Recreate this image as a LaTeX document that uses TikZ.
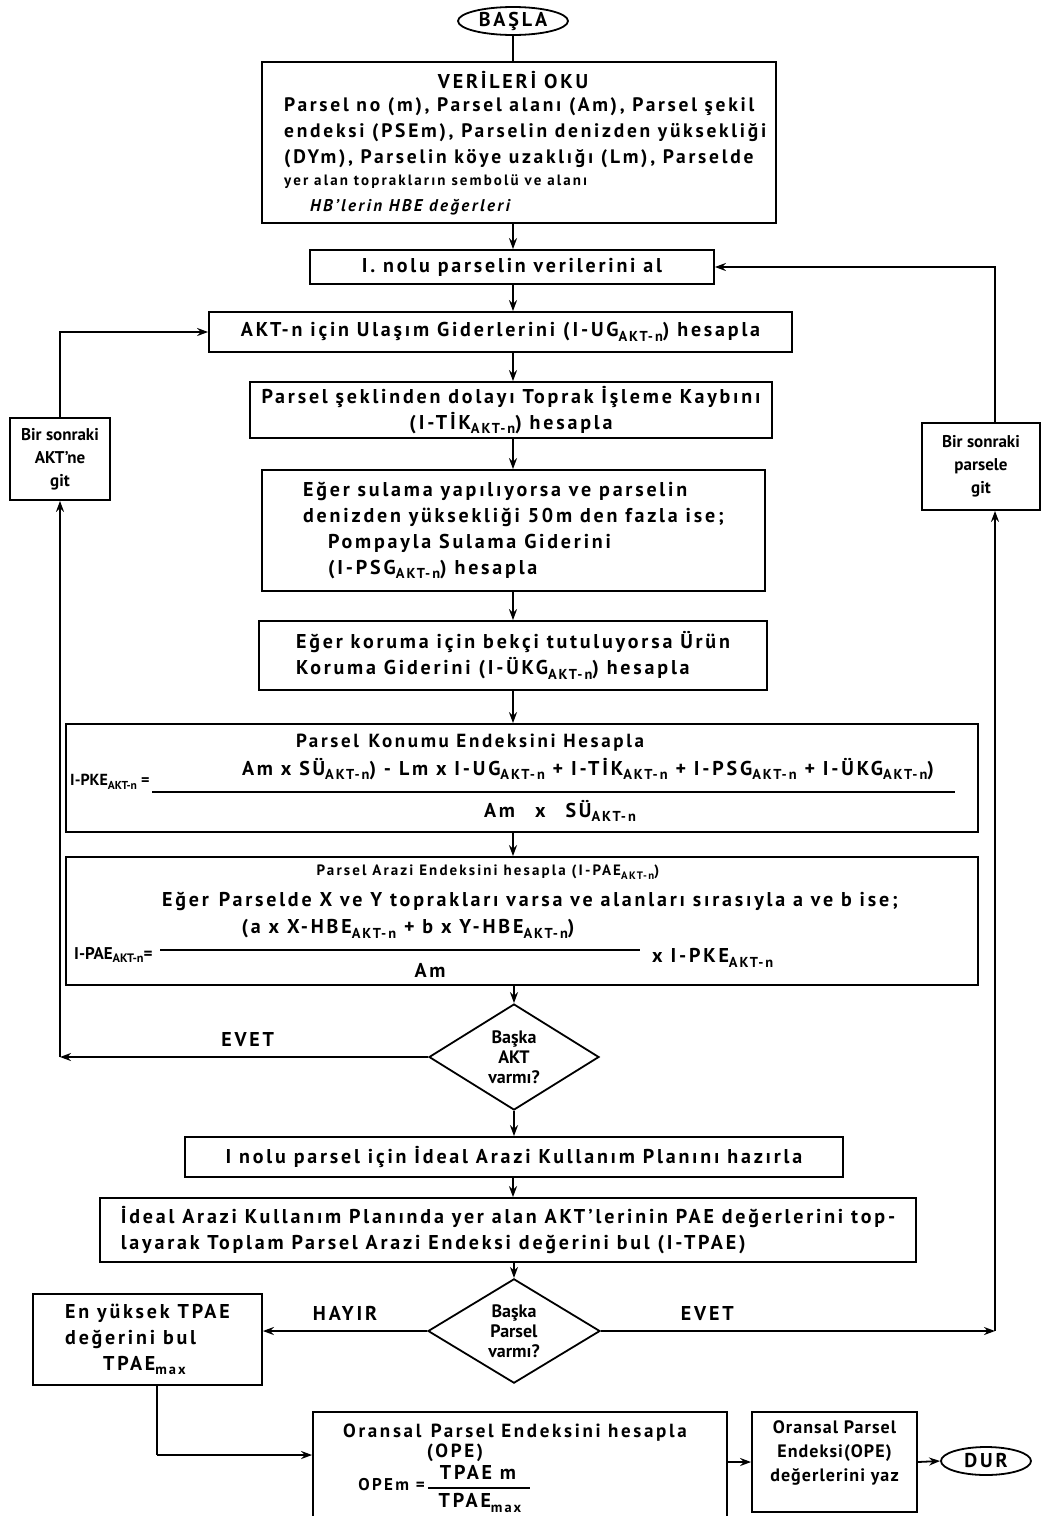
\documentclass[tikz,border=0pt]{standalone}
\usepackage{fontspec}
\usepackage{graphicx}
\setmainfont{PT Sans}[LetterSpace=14]
\usetikzlibrary{shapes.geometric,arrows.meta}
\newcommand\sbs[1]{\raisebox{-0.45ex}{\scalebox{0.72}{#1}}}
\newcommand\nols{\addfontfeature{LetterSpace=0}}
\begin{document}
\begin{tikzpicture}[x=1pt,y=-1pt,
  font=\bfseries\fontsize{20}{26}\selectfont,
  box/.style={draw, line width=1.8pt, inner sep=0pt, align=center},
  arr/.style={line width=1.8pt, -{Stealth[length=11pt,width=8pt]}},
  ln/.style={line width=1.8pt},
  lbl/.style={inner sep=0pt},
  dia/.style={draw, diamond, line width=1.8pt, inner sep=0pt, align=center, font=\bfseries\fontsize{18}{20}\selectfont\nols},
  term/.style={draw, ellipse, line width=1.8pt, inner sep=0pt}]
\useasboundingbox[fill=white] (0,0) rectangle (1050,1516);
\coordinate (cx) at (513,0);

% start
\node[term, minimum width=110, minimum height=28] (basla) at (513,21) {BAŞLA};

% read data
\node[box, minimum width=514, minimum height=161] (oku) at (519,142.5) {};
\node[lbl, font=\bfseries\fontsize{20}{24}\selectfont] (okut) at (513,80) {VERİLERİ OKU};
\node[lbl, anchor=north west, align=left, font=\bfseries\fontsize{19.5}{26}\selectfont] (okub) at (284,97) {Parsel no (m), Parsel alanı (Am), Parsel şekil\\
endeksi (PSEm), Parselin denizden yüksekliği\\
(DYm), Parselin köye uzaklığı (Lm), Parselde\\[-4pt]
{\fontsize{15}{20}\selectfont yer alan toprakların sembolü ve alanı}};
\node[lbl, font=\bfseries\itshape\fontsize{17}{22}\selectfont] (okuc) at (410,207) {HB'lerin HBE değerleri};

\node[box, minimum width=404, minimum height=34] (al) at (512,267) {I. nolu parselin verilerini al};
\node[box, minimum width=583, minimum height=40] (ug) at (500.5,332) {AKT-n için Ulaşım Giderlerini (I-UG\sbs{AKT-n}) hesapla};
\node[box, minimum width=522, minimum height=56] (tik) at (511,410) {Parsel şeklinden dolayı Toprak İşleme Kaybını\\(I-TİK\sbs{AKT-n}) hesapla};
\node[box, minimum width=503, minimum height=121, align=left] (psg) at (513.5,530.5) {Eğer sulama yapılıyorsa ve parselin\\
denizden yüksekliği 50m den fazla ise;\\
\hspace*{25pt}Pompayla Sulama Giderini\\
\hspace*{25pt}(I-PSG\sbs{AKT-n}) hesapla};
\node[box, minimum width=508, minimum height=69, align=left] (ukg) at (513,655.5) {Eğer koruma için bekçi tutuluyorsa Ürün\\Koruma Giderini (I-ÜKG\sbs{AKT-n}) hesapla};

% PKE
\node[box, minimum width=912, minimum height=108] (pke) at (522,778) {};
\node[lbl, font=\bfseries\fontsize{19}{22}\selectfont] (pket) at (470,743) {Parsel\enspace Konumu Endeksini Hesapla};
\node[lbl, anchor=west, font=\bfseries\fontsize{16}{18}\selectfont\nols] (pkel) at (70,782) {I-PKE\sbs{AKT-n} =};
\node[lbl, font=\bfseries\fontsize{20}{22}\selectfont] (pken) at (588,769) {Am x SÜ\sbs{AKT-n}) - Lm x I-UG\sbs{AKT-n} + I-TİK\sbs{AKT-n} + I-PSG\sbs{AKT-n} + I-ÜKG\sbs{AKT-n})};
\draw[line width=1.5pt] (152,792) -- (955,792);
\node[lbl] (pked) at (560,811) {Am\quad x\quad SÜ\sbs{AKT-n}};

% PAE
\node[box, minimum width=912, minimum height=128] (pae) at (522,921) {};
\node[lbl, font=\bfseries\fontsize{15}{20}\selectfont] (paet) at (488,872) {Parsel Arazi Endeksini hesapla (I-PAE\sbs{AKT-n})};
\node[lbl] (paee) at (530,901) {Eğer\enspace Parselde X ve Y toprakları varsa ve alanları sırasıyla a ve b ise;};
\node[lbl] (paen) at (408,929) {(a x X-HBE\sbs{AKT-n} + b x Y-HBE\sbs{AKT-n})};
\draw[line width=1.5pt] (160,950) -- (640,950);
\node[lbl, anchor=west, font=\bfseries\fontsize{17}{20}\selectfont\nols] (pael) at (74,955) {I-PAE\sbs{AKT-n}=};
\node[lbl] (paed) at (430,970) {Am};
\node[lbl, anchor=west, font=\bfseries\fontsize{20}{22}\selectfont] (paer) at (652,958) {x I-PKE\sbs{AKT-n}};

% decision 1
\node[dia, minimum width=170, minimum height=106] (d1) at (514,1057) {Başka\\AKT\\varmı?};

\node[box, minimum width=658, minimum height=40] (plan) at (514,1157) {I nolu parsel için İdeal Arazi Kullanım Planını hazırla};
\node[box, minimum width=816, minimum height=64, align=left] (tpae) at (508,1230) {İdeal Arazi Kullanım Planında yer alan AKT'lerinin PAE değerlerini top-\\layarak Toplam Parsel Arazi Endeksi değerini bul (I-TPAE)};

% decision 2
\node[dia, minimum width=172, minimum height=98] (d2) at (514,1331) {Başka\\Parsel\\varmı?};

% side boxes
\node[box, minimum width=100, minimum height=82, font=\bfseries\fontsize{17}{23}\selectfont\nols] (aktgit) at (60,459) {Bir sonraki\\AKT'ne\\git};
\node[box, minimum width=118, minimum height=87, font=\bfseries\fontsize{17}{23}\selectfont\nols] (pargit) at (981,466.5) {Bir sonraki\\parsele\\git};

\node[box, minimum width=229, minimum height=91, align=left] (max) at (147.5,1339.5) {En yüksek TPAE\\değerini bul\\\hspace*{38pt}TPAE\sbs{max}};

% bottom
\node[box, minimum width=414, minimum height=110] (ope) at (520,1467) {};
\node[lbl, font=\bfseries\fontsize{19}{24}\selectfont] (opet) at (515,1433) {Oransal\enspace Parsel Endeksini hesapla};
\node[lbl, font=\bfseries\fontsize{19}{24}\selectfont] (opep) at (455,1453) {(OPE)};
\node[lbl, anchor=east, font=\bfseries\fontsize{17}{20}\selectfont] (opel) at (425,1485) {OPEm =};
\node[lbl] (open) at (478,1472) {TPAE m};
\draw[line width=1.5pt] (428,1488) -- (530,1488);
\node[lbl] (oped) at (480,1503) {TPAE\sbs{max}};

\node[box, minimum width=165, minimum height=100] (yaz) at (834.5,1462) {};
\node[lbl, align=center, font=\bfseries\fontsize{18}{24}\selectfont\addfontfeature{LetterSpace=6}] (yazt) at (834.5,1453) {Oransal Parsel\\Endeksi(OPE)\\değerlerini yaz};
\node[term, minimum width=90, minimum height=28] (dur) at (986,1461) {DUR};

% connectors
\draw[ln] (basla.south) -- (basla.south |- oku.north);
\draw[arr] (oku.south -| cx) -- (al.north -| cx);
\draw[arr] (al.south -| cx) -- (ug.north -| cx);
\draw[arr] (ug.south -| cx) -- (tik.north -| cx);
\draw[arr] (tik.south -| cx) -- (psg.north -| cx);
\draw[arr] (psg.south -| cx) -- (ukg.north -| cx);
\draw[arr] (ukg.south -| cx) -- (pke.north -| cx);
\draw[arr] (pke.south -| cx) -- (pae.north -| cx);
\draw[arr] (pae.south -| d1.north) -- (d1.north);
\draw[arr] (d1.south) -- (plan.north -| d1.south);
\draw[arr] (plan.south -| cx) -- (tpae.north -| cx);
\draw[arr] (tpae.south -| d2.north) -- (d2.north);

\coordinate (c1) at (d1.west -| aktgit.south);
\draw[arr] (d1.west) -- (c1) node[pos=0.49, above=6pt] {EVET};
\draw[arr] (c1) -- (aktgit.south);
\draw[arr] (aktgit.north) |- (ug.west);

\coordinate (c2) at (995,1331);
\draw[arr] (d2.east) -- (c2) node[pos=0.27, above=6pt] {EVET};
\draw[arr] (c2) -- (c2 |- pargit.south);
\draw[arr] (c2 |- pargit.north) |- (al.east);

\draw[arr] (d2.west) -- (d2.west -| max.east) node[pos=0.5, above=6pt] {HAYIR};

\coordinate (c3) at (157,1455);
\draw[ln] (max.south -| c3) -- (c3);
\draw[arr] (c3) -- (c3 -| ope.west);
\draw[arr] (ope.east |- yaz.west) -- (yaz.west);
\draw[arr] (yaz.east) -- (dur.west);
\end{tikzpicture}
\end{document}
